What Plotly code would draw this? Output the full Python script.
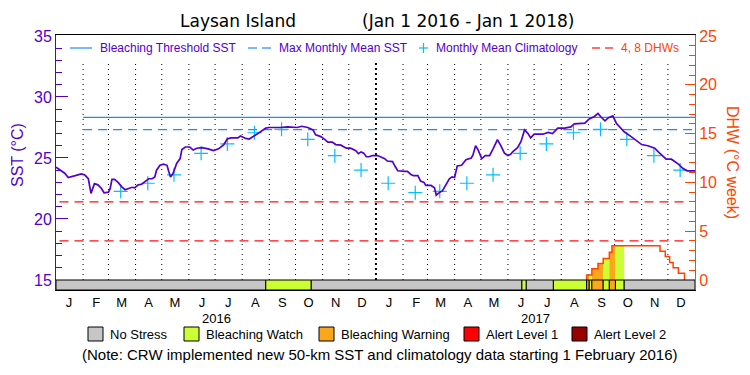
import pandas as pd
import plotly.graph_objects as go

# ---------------- data ----------------
START = pd.Timestamp("2016-01-01")
END = pd.Timestamp("2018-01-01")

# daily SST trace, sampled: days since 2016-01-01 and SST (deg C)
sst_day = [0, 3, 6, 10, 14, 18, 22, 29, 33, 37, 39, 40, 44, 48, 52, 55, 60, 62, 64, 67,
           71, 75, 79, 83, 87, 90, 94, 98, 102, 106, 110, 113, 115, 119, 123, 127, 129, 131, 134, 138,
           142, 144, 148, 153, 157, 161, 167, 174, 180, 186, 192, 196, 200, 208, 211, 217, 221, 227, 231, 234,
           240, 244, 257, 265, 276, 281, 288, 294, 297, 303, 307, 311, 316, 320, 326, 332, 337, 343, 346, 349,
           352, 355, 358, 362, 368, 372, 376, 379, 385, 388, 391, 399, 402, 406, 409, 414, 417, 421, 423, 429,
           433, 435, 439, 442, 446, 450, 453, 456, 459, 464, 469, 475, 477, 480, 483, 487, 491, 496, 500, 505,
           509, 513, 517, 520, 523, 528, 532, 536, 540, 543, 547, 557, 563, 568, 574, 582, 589, 593, 605, 610,
           616, 620, 623, 628, 632, 637, 641, 645, 650, 658, 664, 670, 677, 685, 689, 693, 698, 704, 708, 712,
           717, 722, 731]
sst_value = [24.25, 24.1, 24.0, 23.75, 23.4, 23.5, 23.55, 23.7, 23.6, 23.3, 22.65, 22.1, 22.9, 22.8, 22.5, 22.15, 22.2, 22.5, 23.25, 23.25,
             23.0, 22.65, 22.4, 22.5, 22.6, 22.55, 22.8, 22.85, 23.05, 23.3, 23.3, 23.45, 24.0, 24.4, 24.5, 24.4, 23.9, 23.45, 23.75, 24.55,
             24.95, 25.7, 25.9, 25.9, 25.65, 25.8, 25.85, 25.75, 25.6, 25.75, 26.1, 26.55, 26.65, 26.65, 26.8, 26.6, 26.55, 26.8, 27.0, 27.15,
             27.45, 27.5, 27.5, 27.55, 27.5, 27.6, 27.5, 27.3, 26.9, 26.75, 26.55, 26.3, 26.3, 26.1, 26.05, 25.8, 25.8, 25.6, 25.35, 25.5,
             25.4, 25.1, 25.1, 25.2, 25.2, 25.1, 24.95, 24.75, 24.7, 24.3, 23.95, 23.9, 23.9, 23.65, 23.55, 23.55, 23.1, 23.0, 22.75, 22.75,
             22.55, 21.95, 22.2, 22.3, 22.8, 23.3, 23.45, 23.4, 24.35, 24.4, 24.85, 25.0, 25.25, 26.0, 25.65, 24.95, 25.2, 25.2, 25.75, 26.5,
             26.0, 25.4, 25.2, 25.3, 25.55, 25.85, 26.35, 27.3, 27.0, 26.65, 26.95, 26.95, 27.1, 27.0, 27.45, 27.45, 27.55, 27.8, 27.85, 28.2,
             28.4, 28.65, 28.4, 28.05, 28.3, 28.45, 27.85, 27.5, 27.15, 26.75, 26.4, 26.1, 26.0, 25.8, 25.5, 25.2, 24.9, 24.9, 24.7, 24.5,
             24.15, 23.95, 23.95]

# monthly mean climatology (Jan..Dec), plotted mid-month from Feb 2016
climatology_by_month = [22.93, 22.16, 22.27, 22.93, 23.62, 25.38, 26.15, 27.07, 27.35, 26.53, 25.19, 24.01]
clim_first, clim_last = "2016-02-15", "2017-12-15"

mmm_sst = 27.33                 # max monthly mean SST
bleaching_threshold = 28.33     # MMM + 1
threshold_start = "2016-02-01"
dhw_levels = [4, 8]
dhw_line_start, dhw_line_end = "2016-01-05", "2017-12-24"

# degree heating weeks (step function): day since 2016-01-01 -> value from that day
dhw_day = [607, 613, 620, 626, 633, 636, 691, 697, 702, 706, 712, 719]
dhw_value = [0.5, 1.15, 1.7, 2.2, 2.85, 3.5, 2.95, 2.4, 1.8, 1.25, 0.7, 0.0]

# bleaching alert stress periods
stress_start = [0, 240, 292, 533, 538, 569, 607, 610, 613, 626, 633, 640, 650]
stress_end = [240, 292, 533, 538, 569, 607, 610, 613, 626, 633, 640, 650, 731]
stress_level = [0, 1, 0, 1, 0, 1, 2, 1, 2, 1, 2, 1, 0]
stress_names = ["No Stress", "Bleaching Watch", "Bleaching Warning", "Alert Level 1", "Alert Level 2"]
stress_colors = ["#c6c6c6", "#ccff33", "#fba71b", "#ff0000", "#990000"]

month_letters = ["J", "F", "M", "A", "M", "J", "J", "A", "S", "O", "N", "D"]
year_labels = ["2016", "2017"]
title_site = "Laysan Island"
title_period = "(Jan 1 2016 - Jan 1 2018)"

# ---------------- styling ----------------
PURPLE = "#5300cc"
ORANGE = "#ff4400"
BLUE = "#1c8cff"
CYAN = "#00c0ff"
RED = "#ff1010"
FONT = "Liberation Sans"
TFONT = "DejaVu Sans"

SST_LO, SST_HI = 14.18, 35.08
DHW_LO, DHW_HI = -1.0246, 25.102

OFF = 8                      # page body margin in the browser
W, H = 750 - OFF, 375 - OFF
ML, MT = 56 - OFF, 35 - OFF
PW, PH = 639, 255
MR, MB = W - ML - PW, H - MT - PH


def px(xp):
    return (xp - 56) / PW


def py(yp):
    return (290 - yp) / PH


def d(day):
    return START + pd.to_timedelta(day, unit="D")


fig = go.Figure()

# month boundary dotted lines
bounds = pd.date_range("2016-02-01", "2017-12-01", freq="MS")
vx, vy, tx, ty = [], [], [], []
for b in bounds:
    if b.month == 1:
        tx += [b, b, None]
        ty += [15, 32.8, None]
    else:
        vx += [b, b, None]
        vy += [15, 32.8, None]
fig.add_trace(go.Scatter(x=vx, y=vy, mode="lines", line=dict(color="black", width=1, dash="1px,4px"),
                         hoverinfo="skip", showlegend=False))
fig.add_trace(go.Scatter(x=tx, y=ty, mode="lines", line=dict(color="black", width=2, dash="2px,3px"),
                         hoverinfo="skip", showlegend=False))

# threshold lines
fig.add_trace(go.Scatter(x=[threshold_start, END], y=[bleaching_threshold] * 2, mode="lines",
                         line=dict(color=BLUE, width=1.2), showlegend=False, hoverinfo="skip"))
fig.add_trace(go.Scatter(x=[threshold_start, END], y=[mmm_sst] * 2, mode="lines",
                         line=dict(color=BLUE, width=1.2, dash="9px,6px"), showlegend=False, hoverinfo="skip"))

# DHW 4 / 8 lines
for lv in dhw_levels:
    fig.add_trace(go.Scatter(x=[dhw_line_start, dhw_line_end], y=[lv, lv], yaxis="y2", mode="lines",
                             line=dict(color=RED, width=1.2, dash="9px,6px"), showlegend=False, hoverinfo="skip"))


# coloured fills under DHW for each stress period
def dhw_at(day):
    v = 0.0
    for dd, vv in zip(dhw_day, dhw_value):
        if dd <= day:
            v = vv
    return v


for a, b, lvl in zip(stress_start, stress_end, stress_level):
    if lvl == 0 or b <= dhw_day[0]:
        continue
    xs, ys = [d(a), d(a)], [0, dhw_at(a)]
    for dd in dhw_day:
        if a < dd < b:
            xs += [d(dd), d(dd)]
            ys += [dhw_at(dd - 0.5), dhw_at(dd)]
    xs += [d(b), d(b), d(a)]
    ys += [dhw_at(b - 0.5), 0, 0]
    fig.add_trace(go.Scatter(x=xs, y=ys, yaxis="y2", mode="lines", fill="toself",
                             fillcolor=stress_colors[lvl], line=dict(width=0), showlegend=False,
                             hoverinfo="skip"))

# DHW step line
fig.add_trace(go.Scatter(x=[d(dhw_day[0])] + [d(v) for v in dhw_day], y=[0] + dhw_value, yaxis="y2",
                         mode="lines", line=dict(color=ORANGE, width=1.5, shape="hv"),
                         showlegend=False, hoverinfo="skip"))

# climatology crosses
clim_dates = pd.date_range(clim_first, clim_last, freq="MS") + pd.Timedelta(days=14)
clim_vals = [climatology_by_month[t.month - 1] for t in clim_dates]
fig.add_trace(go.Scatter(x=clim_dates, y=clim_vals, mode="markers",
                         marker=dict(symbol="cross-thin", size=10, line=dict(color=CYAN, width=1.2)),
                         showlegend=False, hoverinfo="skip"))

# SST line
fig.add_trace(go.Scatter(x=[d(v) for v in sst_day], y=sst_value, mode="lines",
                         line=dict(color=PURPLE, width=1.7), showlegend=False, hoverinfo="skip"))

# stress bar
shapes = []
for a, b, lvl in zip(stress_start, stress_end, stress_level):
    shapes.append(dict(type="rect", xref="x", yref="y", x0=d(a), x1=d(b), y0=SST_LO, y1=15,
                       fillcolor=stress_colors[lvl], line=dict(color="black", width=1), layer="above"))

# top legend samples
LY = 48
shapes.append(dict(type="line", xref="paper", yref="paper", x0=px(70), x1=px(92), y0=py(LY), y1=py(LY),
                   line=dict(color=BLUE, width=1.2)))
for x0 in (248, 262):
    shapes.append(dict(type="line", xref="paper", yref="paper", x0=px(x0), x1=px(x0 + 9), y0=py(LY), y1=py(LY),
                       line=dict(color=BLUE, width=1.2)))
shapes.append(dict(type="line", xref="paper", yref="paper", x0=px(419), x1=px(428), y0=py(LY), y1=py(LY),
                   line=dict(color=CYAN, width=1.2)))
shapes.append(dict(type="line", xref="paper", yref="paper", x0=px(423.5), x1=px(423.5), y0=py(LY - 5), y1=py(LY + 5),
                   line=dict(color=CYAN, width=1.2)))
for x0 in (592, 605):
    shapes.append(dict(type="line", xref="paper", yref="paper", x0=px(x0), x1=px(x0 + 8), y0=py(LY), y1=py(LY),
                       line=dict(color=RED, width=1.2)))

ann = []
for xt, txt, col in [(98, "Bleaching Threshold SST", PURPLE), (277, "Max Monthly Mean SST", PURPLE),
                     (434, "Monthly Mean Climatology", PURPLE), (619, "4, 8 DHWs", ORANGE)]:
    ann.append(dict(xref="paper", yref="paper", x=px(xt), y=py(LY), text=txt, showarrow=False,
                    xanchor="left", yanchor="middle", font=dict(family=FONT, size=12, color=col)))

# title (two parts)
ann.append(dict(xref="paper", yref="paper", x=px(178), y=py(21), text=title_site, showarrow=False,
                xanchor="left", yanchor="middle", font=dict(family=TFONT, size=17, color="black")))
ann.append(dict(xref="paper", yref="paper", x=px(576), y=py(21), text=title_period, showarrow=False,
                xanchor="right", yanchor="middle", font=dict(family=TFONT, size=17, color="black")))

# bottom legend
LB = 334
box_x = [88, 184, 319, 464, 572]
for i, (bx, name) in enumerate(zip(box_x, stress_names)):
    shapes.append(dict(type="rect", xref="paper", yref="paper", x0=px(bx), x1=px(bx + 15),
                       y0=py(LB + 7), y1=py(LB - 7), fillcolor=stress_colors[i],
                       line=dict(color="black", width=1)))
    ann.append(dict(xref="paper", yref="paper", x=px(bx + 20), y=py(LB), text=name, showarrow=False,
                    xanchor="left", yanchor="middle", font=dict(family=FONT, size=13, color="black")))

ann.append(dict(xref="paper", yref="paper", x=px(380), y=py(354),
                text="(Note: CRW implemented new 50-km SST and climatology data starting 1 February 2016)",
                showarrow=False, xanchor="center", yanchor="middle", font=dict(family=FONT, size=15, color="black")))

# year labels
for yl in year_labels:
    ann.append(dict(xref="x", yref="paper", x=pd.Timestamp(yl + "-07-03"), y=py(318), text=yl, showarrow=False,
                    xanchor="center", yanchor="middle", font=dict(family=FONT, size=13, color="black")))

# axis titles
ann.append(dict(xref="paper", yref="paper", x=px(17), y=py(155), text="SST (°C)", textangle=-90, showarrow=False,
                xanchor="center", yanchor="middle", font=dict(family=FONT, size=16, color=PURPLE)))
ann.append(dict(xref="paper", yref="paper", x=px(733), y=py(162), text="DHW (°C week)", textangle=90,
                showarrow=False, xanchor="center", yanchor="middle", font=dict(family=FONT, size=16, color=ORANGE)))

month_mid = pd.date_range("2016-01-01", "2017-12-01", freq="MS") + pd.Timedelta(days=15)
month_txt = [month_letters[t.month - 1] for t in month_mid]

fig.update_layout(
    width=W, height=H, margin=dict(l=ML, r=MR, t=MT, b=MB, pad=0),
    paper_bgcolor="white", plot_bgcolor="white", showlegend=False, hovermode=False,
    xaxis=dict(type="date", range=[START, END], tickmode="array", tickvals=month_mid, ticktext=month_txt,
               ticks="", showgrid=False, zeroline=False, showline=True, linecolor="black", linewidth=1,
               mirror=True, tickfont=dict(family=FONT, size=13, color="black")),
    yaxis=dict(range=[SST_LO, SST_HI], tickmode="array", tickvals=[15, 20, 25, 30, 35], ticks="inside",
               ticklen=12, tickcolor=PURPLE, tickwidth=1, showgrid=False, zeroline=False, showline=True,
               linecolor=PURPLE, linewidth=1, tickfont=dict(family=FONT, size=16, color=PURPLE),
               minor=dict(tickmode="array", tickvals=[v for v in range(16, 35) if v % 5], ticks="inside",
                          ticklen=6, tickcolor=PURPLE, showgrid=False)),
    yaxis2=dict(range=[DHW_LO, DHW_HI], overlaying="y", side="right", tickmode="array",
                tickvals=[0, 5, 10, 15, 20, 25], ticks="inside", ticklen=10, tickcolor=ORANGE, tickwidth=1,
                showgrid=False, zeroline=False, showline=True, linecolor=ORANGE, linewidth=1,
                tickfont=dict(family=FONT, size=16, color=ORANGE),
                minor=dict(tickmode="array", tickvals=[v for v in range(1, 25) if v % 5], ticks="inside",
                           ticklen=6, tickcolor=ORANGE, showgrid=False)),
    shapes=shapes, annotations=ann,
)

fig.write_html("out.html")
